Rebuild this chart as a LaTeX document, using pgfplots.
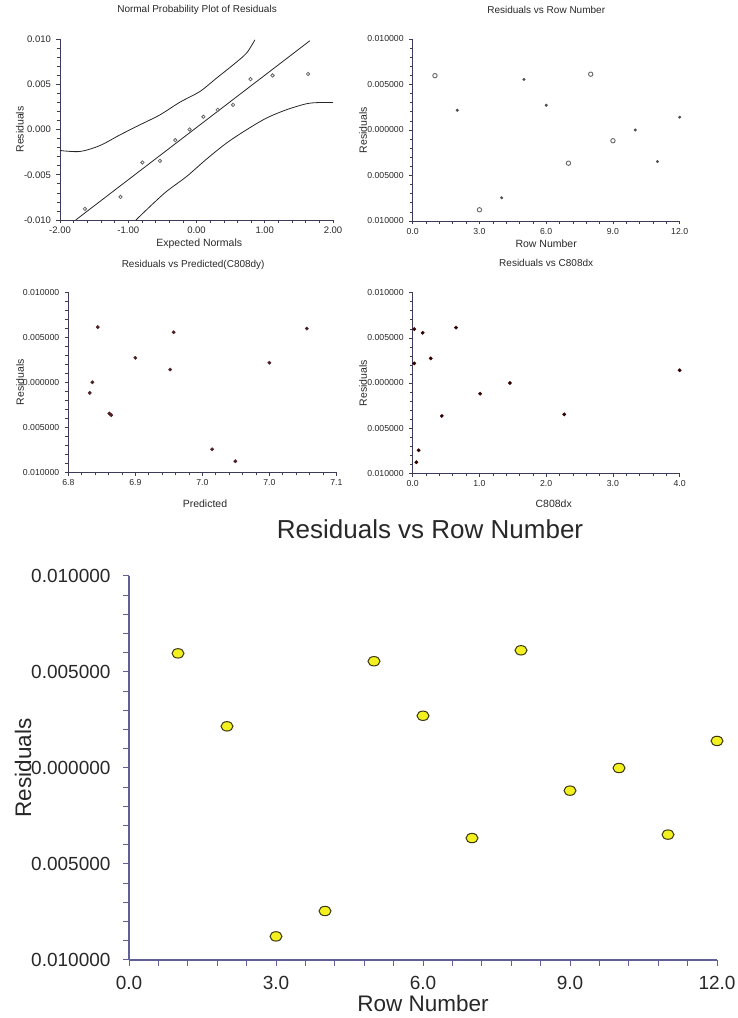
\documentclass[border=0pt]{standalone}
\usepackage{fontspec}
\setmainfont{Liberation Sans}
\usepackage{pgfplots}
\usepackage{pgfplotstable}
\pgfplotsset{compat=1.18}

\definecolor{axisgray}{RGB}{60,60,88}
\definecolor{slate}{RGB}{96,96,150}
\definecolor{dotyellow}{RGB}{242,240,30}
\definecolor{dotedge}{RGB}{60,55,20}
\definecolor{darkmaroon}{RGB}{78,32,38}
\definecolor{txt}{RGB}{40,40,40}

% residuals by row number
\pgfplotstableread{
row res
1 0.00597
2 0.00217
3 -0.00877
4 -0.00745
5 0.00556
6 0.00272
7 -0.00365
8 0.00613
9 -0.00118
10 0.0
11 -0.00347
12 0.00141
}\resid

% normal scores vs sorted residuals
\pgfplotstableread{
z res
-1.635 -0.00877
-1.114 -0.00745
-0.792 -0.00365
-0.536 -0.00347
-0.311 -0.00118
-0.102 0.0
0.102 0.00141
0.311 0.00217
0.536 0.00272
0.792 0.00556
1.114 0.00597
1.635 0.00613
}\normal

% predicted and C808dx per row
\pgfplotstableread{
row pred cdx res
1 7.067 0.024 0.00597
2 7.025 0.024 0.00217
3 6.987 0.055 -0.00877
4 6.961 0.090 -0.00745
5 6.918 0.150 0.00556
6 6.875 0.270 0.00272
7 6.848 0.436 -0.00365
8 6.833 0.650 0.00613
9 6.824 1.010 -0.00118
10 6.827 1.457 0.0
11 6.846 2.270 -0.00347
12 6.914 4.000 0.00141
}\extra

\pgfplotsset{
  smallplot/.style={
    scale only axis,
    anchor=south west,
    axis lines=left,
    axis line style={-, draw=axisgray, line width=0.8pt},
    tick align=outside,
    major tick length=3.5pt, minor tick length=3pt,
    tick style={draw=axisgray, line width=0.6pt},
    minor tick num=4,
    scaled ticks=false,
    ymin=-0.01, ymax=0.01,
    ytick={-0.01,-0.005,0,0.005,0.01},
    yticklabels={0.010000,0.005000,0.000000,0.005000,0.010000},
    ticklabel style={font=\fontsize{8.7}{10}\selectfont, text=txt},
    yticklabel style={xshift=-2pt},
    label style={font=\fontsize{10.5}{12}\selectfont, text=txt},
    title style={font=\fontsize{10}{12}\selectfont, text=txt, anchor=center},
    ylabel={Residuals},
  }
}

\begin{document}
\begin{tikzpicture}
\useasboundingbox (0,0) rectangle (738pt,1018pt);

% Normal probability plot
\begin{axis}[smallplot,
    at={(60pt,798pt)}, width=273pt, height=181pt,
    xmin=-2, xmax=2,
    xtick={-2,-1,0,1,2},
    xticklabels={-2.00,-1.00,0.00,1.00,2.00},
    yticklabels={-0.010,-0.005,0.000,0.005,0.010},
    ticklabel style={font=\fontsize{9.5}{11}\selectfont},
    title={Normal Probability Plot of Residuals},
    title style={at={(axis description cs:0.502,1.127)}},
    xlabel={Expected Normals},
    xlabel style={at={(axis description cs:0.51,-0.129)}, anchor=center},
    ylabel style={at={(axis description cs:-0.147,0.5)}, anchor=center},
  ]
  \addplot[draw=black!85, line width=0.8pt] coordinates {(-1.77,-0.010) (1.66,0.0098)};
  \addplot[draw=black!85, line width=0.8pt, smooth] coordinates {
    (-2.0,-0.00232) (-1.707,-0.00243) (-1.414,-0.00177) (-1.12,-0.00059)
    (-0.828,0.00052) (-0.535,0.00162) (-0.24,0.00303) (0.05,0.0042)
    (0.294,0.00568) (0.538,0.00715) (0.733,0.00844) (0.855,0.0099)};
  \addplot[draw=black!85, line width=0.8pt, smooth] coordinates {
    (-0.887,-0.0100) (-0.68,-0.0085) (-0.44,-0.00685) (-0.146,-0.0052)
    (0.147,-0.00327) (0.44,-0.0015) (0.733,-0.00003) (1.025,0.00126)
    (1.318,0.00218) (1.61,0.00284) (1.80,0.00298) (2.0,0.00298)};
  \addplot[only marks, mark=o, mark size=1.7pt, mark options={draw=black!60, line width=0.8pt}]
    table[x=z, y=res] {\normal};
\end{axis}

% Residuals vs row number (small)
\begin{axis}[smallplot,
    at={(412.7pt,797pt)}, width=267pt, height=182pt,
    xmin=0, xmax=12,
    xtick={0,3,6,9,12},
    xticklabels={0.0,3.0,6.0,9.0,12.0},
    title={Residuals vs Row Number},
    title style={at={(axis description cs:0.5,1.126)}},
    xlabel={Row Number},
    xlabel style={at={(axis description cs:0.5,-0.123)}, anchor=center},
    ylabel style={at={(axis description cs:-0.186,0.5)}, anchor=center},
  ]
  \addplot[only marks, mark=o, mark size=2.2pt, mark options={draw=black!60, line width=0.9pt}]
    coordinates {(1,0.00597) (3,-0.00877) (7,-0.00365) (8,0.00613) (9,-0.00118)};
  \addplot[only marks, mark=*, mark size=1.3pt, mark options={fill=black!70, draw=black!70}]
    coordinates {(2,0.00217) (4,-0.00745) (5,0.00556) (6,0.00272) (10,0.0) (11,-0.00347) (12,0.00141)};
\end{axis}

% Residuals vs predicted
\begin{axis}[smallplot,
    at={(68.3pt,545.7pt)}, width=268pt, height=180pt,
    xmin=6.8, xmax=7.1,
    xtick={6.8,6.875,6.95,7.025,7.1},
    xticklabels={6.8,6.9,7.0,7.0,7.1},
    title={Residuals vs Predicted(C808dy)},
    title style={at={(axis description cs:0.466,1.118)}},
    xlabel={Predicted},
    xlabel style={at={(axis description cs:0.51,-0.176)}, anchor=center},
    ylabel style={at={(axis description cs:-0.18,0.5)}, anchor=center},
  ]
  \addplot[only marks, mark=*, mark size=1.7pt, mark options={fill=darkmaroon, draw=darkmaroon}]
    table[x=pred, y=res] {\extra};
\end{axis}

% Residuals vs C808dx
\begin{axis}[smallplot,
    at={(412.7pt,544.7pt)}, width=267pt, height=180.6pt,
    xmin=0, xmax=4,
    xtick={0,1,2,3,4},
    xticklabels={0.0,1.0,2.0,3.0,4.0},
    title={Residuals vs C808dx},
    title style={at={(axis description cs:0.5,1.13)}},
    xlabel={C808dx},
    xlabel style={at={(axis description cs:0.528,-0.17)}, anchor=center},
    ylabel style={at={(axis description cs:-0.186,0.5)}, anchor=center},
  ]
  \addplot[only marks, mark=*, mark size=1.7pt, mark options={fill=black!80!red, draw=black!80!red}]
    table[x=cdx, y=res] {\extra};
\end{axis}

% Large residuals vs row number
\begin{axis}[
    scale only axis,
    anchor=south west,
    at={(129pt,58pt)}, width=588pt, height=384pt,
    axis lines=left,
    axis line style={-, draw=slate, line width=1.1pt},
    tick align=outside,
    major tick length=6pt, minor tick length=6pt,
    tick style={draw=slate, line width=1pt},
    minor tick num=4,
    scaled ticks=false,
    xmin=0, xmax=12,
    xtick={0,3,6,9,12},
    xticklabels={0.0,3.0,6.0,9.0,12.0},
    ymin=-0.01, ymax=0.01,
    ytick={-0.01,-0.005,0,0.005,0.01},
    yticklabels={0.010000,0.005000,0.000000,0.005000,0.010000},
    ticklabel style={font=\fontsize{19}{22}\selectfont, text=txt},
    xticklabel style={yshift=-7pt},
    yticklabel style={xshift=-9pt},
    label style={font=\fontsize{22.5}{26}\selectfont, text=txt},
    title={Residuals vs Row Number},
    title style={font=\fontsize{26}{30}\selectfont, text=txt, anchor=center,
      at={(axis description cs:0.512,1.107)}},
    xlabel={Row Number},
    xlabel style={at={(axis description cs:0.5,-0.113)}, anchor=center},
    ylabel={Residuals},
    ylabel style={at={(axis description cs:-0.18,0.5)}, anchor=center},
  ]
  \addplot[only marks, mark=*, mark size=5pt,
    mark options={xscale=1.2, yscale=0.94, fill=dotyellow, draw=dotedge, line width=1pt}]
    table[x=row, y=res] {\resid};
\end{axis}
\end{tikzpicture}
\end{document}
